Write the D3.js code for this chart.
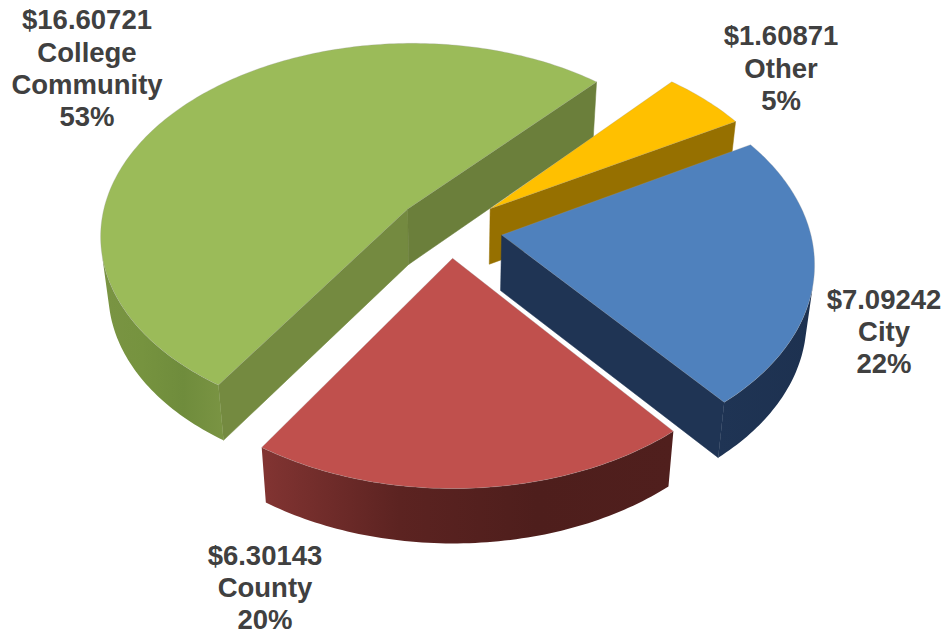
<!DOCTYPE html>
<html>
<head>
<meta charset="utf-8">
<script src="https://d3js.org/d3.v7.min.js"></script>
<style>
html, body { margin: 0; padding: 0; background: #fff; }
text { font-family: "Liberation Sans", Arial, sans-serif; font-weight: bold; font-size: 27.5px; fill: #404040; text-anchor: middle; }
</style>
</head>
<body>
<div id="chart"></div>
<script>
// slices in drawing order round the pie, clockwise
var categories = ["City", "County", "College Community", "Other"];
var values = [7.09242, 6.30143, 16.60721, 1.60871];
var amounts = ["$7.09242", "$6.30143", "$16.60721", "$1.60871"];
var percents = ["22%", "20%", "53%", "5%"];

// colours
var topColors = ["#4f81bd", "#c0504d", "#9bbb59", "#ffc000"];
var radialColors = [["#1f3454", "#1f3454"], ["#5a2220", "#5a2220"], ["#748a40", "#6b7f3b"], ["#967000", "#967000"]];
var outerColors = [
	["#1f3454", "#1d3150"],
	["#823432", "#5c2321", "#4e1e1c", "#501f1d"],
	["#7a9443", "#76933f", "#6f8c3c", "#7a9443"],
	["#967000", "#967000"]
];
var explode = [0.17, 0.15, 0.175, 0.17];
var labelLines = [
	[[amounts[0], 309], ["City", 341], [percents[0], 373]],
	[[amounts[1], 565], ["County", 597], [percents[1], 629]],
	[[amounts[2], 29], ["College", 62], ["Community", 94], [percents[2], 126]],
	[[amounts[3], 45], ["Other", 78], [percents[3], 110]]
];
var labelX = [884, 265, 87, 781];

var width = 948, height = 637;
var startDeg = 60.2, persp = 0.13, shrink = 0.022, thick = 55.5;

var svg = d3.select("#chart").append("svg")
	.attr("width", width)
	.attr("height", height)
	.style("display", "block");
var defs = svg.append("defs");

var xScale = d3.scaleLinear().domain([-1, 1]).range([450 - 308, 450 + 308]);
var yScale = d3.scaleLinear().domain([-1, 1]).range([229 - 192, 229 + 192]);

// ground plane (u right, v toward viewer, d = 0 top .. 1 bottom) to screen
function project(u, v, d) {
	var s = 1 / (1 - persp * v) * (1 - shrink * d);
	return [xScale(u * s), yScale(v * s) + thick * d * (1 + 0.08 * v)];
}

var pie = d3.pie().sort(null)
	.startAngle(startDeg * Math.PI / 180)
	.endAngle(startDeg * Math.PI / 180 + 2 * Math.PI);
var arcs = pie(values);

var line = d3.line();

function drawSlice(i) {
	var a = arcs[i];
	var mid = (a.startAngle + a.endAngle) / 2;
	var u0 = Math.sin(mid) * explode[i], v0 = -Math.cos(mid) * explode[i];
	var g = svg.append("g").attr("class", "slice");

	function rim(t, d) {
		return project(u0 + Math.sin(t), v0 - Math.cos(t), d);
	}

	// flat inner walls, only the ones facing us (d3 area sign is flipped in y-down)
	[a.startAngle, a.endAngle].forEach(function(t, j) {
		var q = [project(u0, v0, 0), rim(t, 0), rim(t, 1), project(u0, v0, 1)];
		var facing = d3.polygonArea(q) > 0 ? j == 0 : j == 1;
		if (facing) {
			g.append("path")
				.attr("d", line(q) + "Z")
				.attr("fill", radialColors[i][j])
				.attr("stroke", radialColors[i][j])
				.attr("stroke-width", 0.5);
		}
	});

	var n = Math.max(8, Math.round((a.endAngle - a.startAngle) * 60));
	var ts = d3.range(n + 1).map(function(k) {
		return a.startAngle + (a.endAngle - a.startAngle) * k / n;
	});

	// outer wall: keep only the rim steps that face us, shade along x
	var front = [];
	d3.range(n).forEach(function(k) {
		var q = [rim(ts[k], 0), rim(ts[k + 1], 0), rim(ts[k + 1], 1), rim(ts[k], 1)];
		if (d3.polygonArea(q) > 0) {
			if (!front.length) front.push(ts[k]);
			front.push(ts[k + 1]);
		}
	});
	if (front.length) {
		var wall = front.map(function(t) { return rim(t, 0); })
			.concat(front.slice().reverse().map(function(t) { return rim(t, 1); }));
		var ext = d3.extent(wall, function(p) { return p[0]; });
		var grad = defs.append("linearGradient")
			.attr("id", "wall" + i)
			.attr("gradientUnits", "userSpaceOnUse")
			.attr("x1", ext[0]).attr("x2", ext[1])
			.attr("y1", 0).attr("y2", 0);
		outerColors[i].forEach(function(c, k) {
			grad.append("stop")
				.attr("offset", k / (outerColors[i].length - 1))
				.attr("stop-color", c);
		});
		g.append("path")
			.attr("d", line(wall) + "Z")
			.attr("fill", "url(#wall" + i + ")");
	}

	// top face
	var pts = [project(u0, v0, 0)].concat(ts.map(function(t) { return rim(t, 0); }));
	g.append("path")
		.attr("d", line(pts) + "Z")
		.attr("fill", topColors[i])
		.attr("stroke", "#9a9a9a")
		.attr("stroke-opacity", 0.35)
		.attr("stroke-width", 0.8);
}

// back to front
[2, 3, 0, 1].forEach(drawSlice);

labelLines.forEach(function(lines, i) {
	var t = svg.append("text").attr("class", "label");
	lines.forEach(function(l) {
		t.append("tspan").attr("x", labelX[i]).attr("y", l[1]).text(l[0]);
	});
});
</script>
</body>
</html>
